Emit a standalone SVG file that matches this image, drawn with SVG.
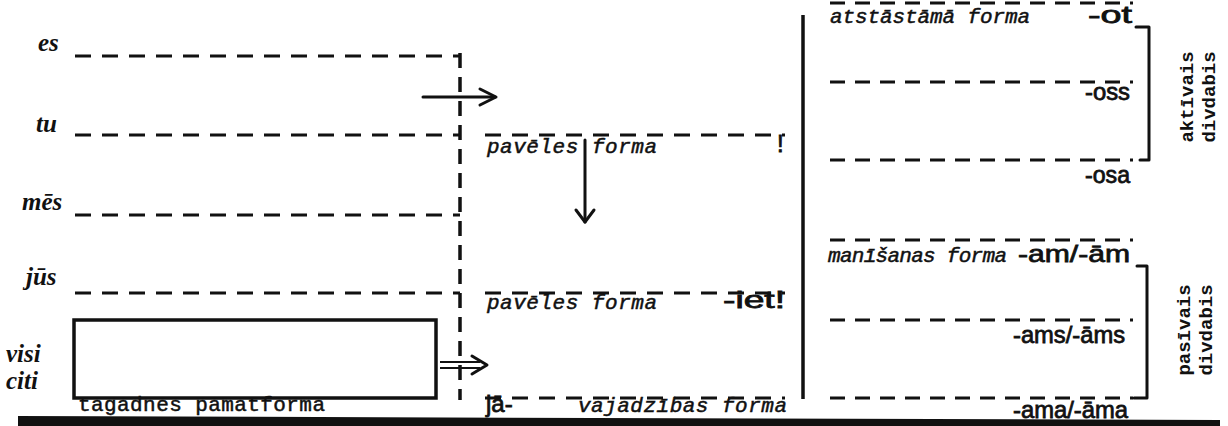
<svg xmlns="http://www.w3.org/2000/svg" width="1228" height="426" viewBox="0 0 1228 426">
<style>
.dash{stroke:#111;stroke-width:3;stroke-dasharray:16 11;fill:none}
.dashr{stroke:#111;stroke-width:3;stroke-dasharray:15 10;fill:none}
.solid{stroke:#111;stroke-width:3;fill:none;stroke-linecap:round;stroke-linejoin:round}
.hand{font-family:"Liberation Serif",serif;font-style:italic;font-weight:bold;font-size:25px;fill:#111}
.type{font-family:"Liberation Mono",monospace;font-style:italic;font-size:21px;fill:#111;stroke:#111;stroke-width:0.5}
.typeu{font-family:"Liberation Mono",monospace;font-size:21px;fill:#111;stroke:#111;stroke-width:0.5}
.end{font-family:"Liberation Sans",sans-serif;font-size:24px;fill:#111;stroke:#111;stroke-width:0.8}
.rot{font-family:"Liberation Mono",monospace;font-weight:bold;font-size:19px;fill:#111}
</style>
<rect width="1228" height="426" fill="#fff"/>
<g id="persons">
<text class="hand" x="38" y="51">es</text>
<text class="hand" x="36" y="132">tu</text>
<text class="hand" x="22" y="210">mēs</text>
<text class="hand" x="26" y="285">jūs</text>
<text class="hand" x="6" y="362">visi</text>
<text class="hand" x="6" y="389">citi</text>
<line class="dash" x1="75" y1="56" x2="460" y2="56"/>
<line class="dash" x1="75" y1="135" x2="460" y2="135"/>
<line class="dash" x1="75" y1="215" x2="460" y2="215"/>
<line class="dash" x1="75" y1="293" x2="460" y2="293"/>
</g>
<g id="pamatforma">
<rect x="74" y="320" width="362" height="78" fill="none" stroke="#111" stroke-width="3.5"/>
<text class="typeu" x="78" y="411" textLength="247">tagadnes pamatforma</text>
</g>
<g id="divider">
<line x1="460" y1="53" x2="460" y2="400" stroke="#111" stroke-width="3.5" stroke-dasharray="15 9"/>
<line x1="803" y1="15" x2="803" y2="399" stroke="#111" stroke-width="3.5"/>
</g>
<g id="paveles1">
<line class="dash" x1="485" y1="135" x2="785" y2="135"/>
<text class="type" x="487" y="153" textLength="170">pavēles forma</text>
<text class="end" x="777" y="152">!</text>
</g>
<g id="paveles2">
<line class="dash" x1="485" y1="293" x2="785" y2="293"/>
<text class="type" x="487" y="309" textLength="170">pavēles forma</text>
<text class="end" x="723" y="308" textLength="62" lengthAdjust="spacingAndGlyphs">-iet!</text>
</g>
<g id="vajadzibas">
<line class="dash" x1="485" y1="398" x2="785" y2="398"/>
<text class="end" x="486" y="412">jā-</text>
<text class="type" x="578" y="412" textLength="209">vajadzības forma</text>
</g>
<g id="aktivais">
<line class="dashr" x1="830" y1="3" x2="1133" y2="3"/>
<text class="type" x="830" y="23" textLength="200">atstāstāmā forma</text>
<text class="end" x="1088" y="23" textLength="44" lengthAdjust="spacingAndGlyphs">-ot</text>
<line class="dashr" x1="830" y1="82" x2="1133" y2="82"/>
<text class="end" x="1085" y="100" textLength="45" lengthAdjust="spacingAndGlyphs">-oss</text>
<line class="dashr" x1="830" y1="160" x2="1133" y2="160"/>
<text class="end" x="1085" y="183" textLength="45" lengthAdjust="spacingAndGlyphs">-osa</text>
<path class="solid" d="M1136,27 H1149 V160 H1140"/>
<text class="rot" transform="translate(1193,97) rotate(-90)" text-anchor="middle">aktīvais</text>
<text class="rot" transform="translate(1215,97) rotate(-90)" text-anchor="middle">divdabis</text>
</g>
<g id="pasivais">
<line class="dashr" x1="830" y1="240" x2="1133" y2="240"/>
<text class="type" x="828" y="262" textLength="179">manīšanas forma</text>
<text class="end" x="1018" y="262" textLength="112" lengthAdjust="spacingAndGlyphs">-am/-ām</text>
<line class="dashr" x1="830" y1="320" x2="1133" y2="320"/>
<text class="end" x="1013" y="343" textLength="112" lengthAdjust="spacingAndGlyphs">-ams/-āms</text>
<line class="dashr" x1="830" y1="398" x2="1133" y2="398"/>
<text class="end" x="1013" y="418" textLength="115" lengthAdjust="spacingAndGlyphs">-ama/-āma</text>
<path class="solid" d="M1137,266 H1147 V398 H1134"/>
<text class="rot" transform="translate(1190,330) rotate(-90)" text-anchor="middle">pasīvais</text>
<text class="rot" transform="translate(1212,330) rotate(-90)" text-anchor="middle">divdabis</text>
</g>
<g id="connectors">
<line class="solid" x1="423" y1="97" x2="495" y2="97"/>
<polyline class="solid" points="480,89 496,97 480,105"/>
<line class="solid" x1="585" y1="140" x2="585" y2="222"/>
<polyline class="solid" points="576,210 585,222 594,210"/>
<line x1="440" y1="362" x2="480" y2="362" stroke="#111" stroke-width="2"/>
<line x1="440" y1="368" x2="480" y2="368" stroke="#111" stroke-width="2"/>
<polyline class="solid" points="472,356 487,365 472,374"/>
</g>
<polygon points="18,416 1220,420 1220,426 18,426" fill="#111"/>
</svg>
